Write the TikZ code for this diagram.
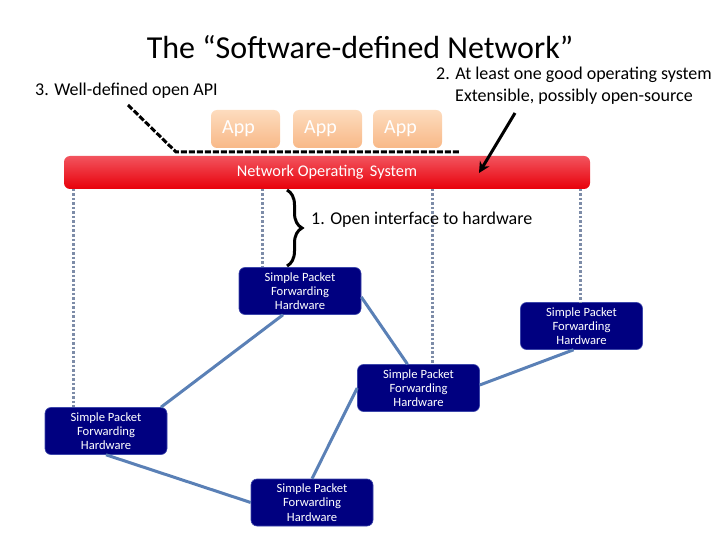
\documentclass[tikz,border=0pt]{standalone}
\usepackage{fontspec}
\setmainfont{Carlito}
\usetikzlibrary{decorations.pathreplacing,arrows.meta,calc}
\definecolor{navy}{RGB}{0,0,128}
\definecolor{navyedge}{RGB}{60,70,170}
\definecolor{linkblue}{RGB}{90,128,182}
\definecolor{ctrlgrey}{RGB}{125,140,168}
\definecolor{apptop}{RGB}{253,220,190}
\definecolor{appbot}{RGB}{248,184,135}
\definecolor{nostop}{RGB}{242,84,94}
\definecolor{nosbot}{RGB}{232,0,10}
\begin{document}
\begin{tikzpicture}[x=1pt,y=-1pt,
  lab/.style={font=\fontsize{18}{22}\selectfont, inner sep=0pt},
  appbox/.style={rounded corners=6pt, top color=apptop, bottom color=appbot, draw=none,
    minimum width=69pt, minimum height=38pt, text=white, font=\fontsize{20}{22}\selectfont, inner sep=0pt},
  nosbar/.style={rounded corners=6pt, top color=nostop, bottom color=nosbot, draw=none,
    minimum width=526pt, minimum height=33pt, text=white, font=\fontsize{16.3}{18}\selectfont, inner sep=0pt},
  switchbox/.style={rounded corners=6pt, fill=navy, draw=navyedge, line width=0.6pt,
    minimum width=122pt, minimum height=47pt, text=white, align=center,
    font=\fontsize{12.6}{14.2}\selectfont, inner sep=0pt},
  linkline/.style={draw=linkblue, line width=3pt},
  ctrlline/.style={draw=ctrlgrey, line width=3pt, dash pattern=on 2.5pt off 2pt},
  apiline/.style={draw=black, line width=3pt, dash pattern=on 6pt off 2pt},
  ptr/.style={draw=black, line width=3pt, -{Stealth[length=11pt,width=11pt]}}
]
\useasboundingbox (0,0) rectangle (720,540);

\node[font=\fontsize{32}{36}\selectfont, inner sep=0pt] (title) at (360,47) {The “Software-defined Network”};
\node[lab, anchor=west] (api) at (35,91) {3. Well-defined open API};
\node[lab, align=center] (os) at (574,86) {2. At least one good operating system\\Extensible, possibly open-source};

\node[appbox] (a1) at (245.5,129) {\hspace*{-14pt}App};
\node[appbox] (a2) at (327.5,129) {\hspace*{-14pt}App};
\node[appbox] (a3) at (407.5,129) {\hspace*{-14pt}App};

\node[nosbar] (nos) at (327,172.5) {Network Operating \,System};

\node[switchbox] (s1) at (300,291) {Simple Packet\\Forwarding\\Hardware};
\node[switchbox] (s2) at (581.5,326) {Simple Packet\\Forwarding\\Hardware};
\node[switchbox] (s3) at (418.5,388) {Simple Packet\\Forwarding\\Hardware};
\node[switchbox] (s4) at (106,431) {Simple Packet\\Forwarding\\Hardware};
\node[switchbox] (s5) at (312,502.5) {Simple Packet\\Forwarding\\Hardware};

% control (dotted) lines
\coordinate (d1) at (73,189);
\coordinate (d2) at (262,189);
\coordinate (d3) at (432,189);
\coordinate (d4) at (580,189);
\draw[ctrlline] (d1) -- (d1 |- s4.north);
\draw[ctrlline] (d2) -- (d2 |- s1.north);
\draw[ctrlline] (d3) -- (d3 |- s3.north);
\draw[ctrlline] (d4) -- (d4 |- s2.north);

% data links
\draw[linkline] ([xshift=-17pt]s1.south) -- ([xshift=55pt]s4.north);
\draw[linkline] ([yshift=-6pt]s1.east) -- ([xshift=-11pt]s3.north);
\draw[linkline] ([yshift=3pt]s3.east) -- ([xshift=-8pt]s2.south);
\draw[linkline] (s4.south) -- (s5.west);
\draw[linkline] (s5.north) -- (s3.west);

% brace
\draw[decorate, decoration={brace, amplitude=15pt}, line width=3pt] (287,190) -- (287,266);
\node[lab, anchor=west] (oi) at (311,220) {1. Open interface to hardware};

% API dashed line
\coordinate (p1) at (128,105);
\coordinate (p2) at (176,152);
\coordinate (p3) at (460,152);
\draw[apiline] (p1) -- (p2) -- (p3);

% OS pointer
\coordinate (q1) at (515,113);
\coordinate (q2) at (479,173);
\draw[ptr] (q1) -- (q2);
\end{tikzpicture}
\end{document}
